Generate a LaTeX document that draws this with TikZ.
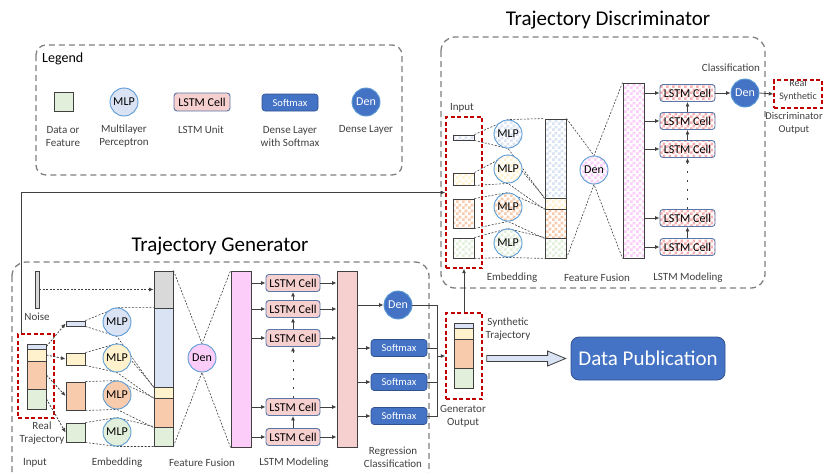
\documentclass[tikz,border=0pt]{standalone}
\usepackage{fontspec}
\setmainfont{Carlito}
\usetikzlibrary{arrows.meta,patterns,calc,fit}
\pgfdeclarelayer{bg}
\pgfsetlayers{bg,main}
\pgfdeclarepatternformonly{mychk}{\pgfqpoint{0pt}{0pt}}{\pgfqpoint{6pt}{6pt}}{\pgfqpoint{6pt}{6pt}}{%
  \pgfpathrectangle{\pgfqpoint{0pt}{0pt}}{\pgfqpoint{3pt}{3pt}}%
  \pgfpathrectangle{\pgfqpoint{3pt}{3pt}}{\pgfqpoint{3pt}{3pt}}%
  \pgfusepath{fill}}
\definecolor{cblue}{HTML}{DAE3F3}
\definecolor{cyel}{HTML}{FFF2CC}
\definecolor{corg}{HTML}{F8CBAD}
\definecolor{cgrn}{HTML}{E2EFDA}
\definecolor{cgry}{HTML}{D9D9D9}
\definecolor{cpink}{HTML}{F6CFCF}
\definecolor{cmag}{HTML}{FBCDF8}
\definecolor{cdark}{HTML}{4472C4}
\definecolor{cdarkb}{HTML}{2F528F}
\definecolor{cring}{HTML}{5B9BD5}
\definecolor{ccell}{HTML}{5A77A8}
\definecolor{cred}{HTML}{C00000}
\definecolor{cgbox}{HTML}{808080}
\definecolor{cline}{HTML}{404040}
\tikzset{
 seg/.style={draw=cline, line width=0.9pt, inner sep=0pt, fill=#1},
 dseg/.style={draw=cline, line width=0.9pt, inner sep=0pt, preaction={fill=white}, pattern=mychk, pattern color=#1},
 mlp/.style={circle, draw=cring, line width=0.9pt, fill=#1, minimum size=28pt, inner sep=0pt, font=\fontsize{12}{12}\selectfont},
 dmlp/.style={circle, draw=cring, line width=0.9pt, preaction={fill=white}, pattern=mychk, pattern color=#1, minimum size=28pt, inner sep=0pt, font=\fontsize{12}{12}\selectfont},
 lstm/.style={draw=ccell, line width=0.9pt, rounded corners=3pt, fill=cpink, minimum width=54pt, minimum height=17pt, inner sep=0pt, font=\fontsize{12}{12}\selectfont},
 dlstm/.style={draw=ccell, line width=0.9pt, rounded corners=3pt, preaction={fill=white}, pattern=mychk, pattern color=cpink!85!red, minimum width=55pt, minimum height=17pt, inner sep=0pt, font=\fontsize{12}{12}\selectfont},
 smx/.style={draw=cdarkb, line width=0.6pt, fill=cdark, rounded corners=3pt, minimum width=56pt, minimum height=17pt, inner sep=0pt, text=white, font=\fontsize{10.5}{10.5}\selectfont},
 den/.style={circle, draw=cring, line width=0.9pt, fill=cdark, minimum size=28pt, inner sep=0pt, text=white, font=\fontsize{12}{12}\selectfont},
 redbox/.style={draw=cred, line width=1.4pt, dash pattern=on 4pt off 2.5pt, inner sep=0pt},
 gbox/.style={draw=cgbox, line width=1.3pt, dash pattern=on 6pt off 4pt, rounded corners=14pt},
 arr/.style={draw=cline, line width=0.8pt, -{Latex[length=4.5pt,width=4pt]}},
 darr/.style={arr, dash pattern=on 2pt off 1.5pt},
 dl/.style={draw=cline, line width=0.6pt, dash pattern=on 2pt off 1.5pt},
 sl/.style={draw=cline, line width=0.8pt},
 lab/.style={font=\fontsize{11}{13}\selectfont, align=center, text=cline, inner sep=0pt},
 ttl/.style={font=\fontsize{21}{24}\selectfont, inner sep=0pt, text=black},
}
\begin{document}
\begin{tikzpicture}[x=1pt,y=-1pt]
\useasboundingbox (0,0) rectangle (824,472);

% ---------------- Legend ----------------
\draw[gbox, rounded corners=10pt] (36,45) rectangle (402,175);
\node[font=\fontsize{14}{14}\selectfont, anchor=west, inner sep=0pt] (legt) at (42,59) {Legend};
\node[seg=cgrn, fit={(54,92)(73,111)}] (lsq) {};
\node[mlp=cblue] (lmlp) at (124,102) {MLP};
\node[lstm, minimum width=56pt, minimum height=18pt] (lcl) at (202,102) {LSTM Cell};
\node[smx] (lsm) at (290,102.5) {Softmax};
\node[den] (lden) at (366,102) {Den};
\node[lab] (l1) at (63,136.5) {Data or\\Feature};
\node[lab] (l2) at (124,136.5) {Multilayer\\Perceptron};
\node[lab] (l3) at (201,130) {LSTM Unit};
\node[lab] (l4) at (290,136.5) {Dense Layer\\with Softmax};
\node[lab] (l5) at (366,130) {Dense Layer};

% ---------------- Generator ----------------
\node[ttl] (gtitle) at (220,246) {Trajectory Generator};
\draw[gbox] (12,262) rectangle (429,500);

\node[seg=cgry, fit={(35,271)(39,308)}] (noise) {};
\node[lab] (noisel) at (37,317) {Noise};

\node[seg=cblue, fit={(27,344)(46,349)}] (rt1) {};
\node[seg=cyel, fit={(27,349)(46,361)}] (rt2) {};
\node[seg=corg, fit={(27,361)(46,389)}] (rt3) {};
\node[seg=cgrn, fit={(27,389)(46,409)}] (rt4) {};
\node[redbox, fit={(18,334)(54,418)}] (rtbox) {};
\node[lab] (rtl) at (42,433.5) {Real\\Trajectory};

\node[seg=cblue, fit={(66,321)(85,326)}] (ge1) {};
\node[seg=cyel, fit={(66,353)(85,365)}] (ge2) {};
\node[seg=corg, fit={(66,382)(85,410)}] (ge3) {};
\node[seg=cgrn, fit={(66,423)(85,442)}] (ge4) {};

\node[mlp=cblue] (gm1) at (117,322) {MLP};
\node[mlp=cyel] (gm2) at (117,358) {MLP};
\node[mlp=corg] (gm3) at (117,395) {MLP};
\node[mlp=cgrn] (gm4) at (117,432) {MLP};

\node[seg=cgry, fit={(154,271)(173,308)}] (gfg) {};
\node[seg=cblue, fit={(154,308)(173,387)}] (gfb) {};
\node[seg=cyel, fit={(154,387)(173,398)}] (gfy) {};
\node[seg=corg, fit={(154,398)(173,427)}] (gfo) {};
\node[seg=cgrn, fit={(154,427)(173,446)}] (gfn) {};

\node[mlp=cmag] (gden) at (202,358) {Den};
\node[seg=cmag, fit={(231,271)(251,447)}] (gbar) {};

\node[lstm] (gc1) at (293,283) {LSTM Cell};
\node[lstm] (gc2) at (293,309) {LSTM Cell};
\node[lstm] (gc3) at (293,338) {LSTM Cell};
\node[lstm] (gc4) at (293,407) {LSTM Cell};
\node[lstm] (gc5) at (293,437) {LSTM Cell};

\node[seg=cpink, fit={(337,271)(357,447)}] (gout) {};
\node[den] (gden2) at (398,305) {Den};
\node[smx] (gs1) at (399,348) {Softmax};
\node[smx] (gs2) at (399,382) {Softmax};
\node[smx] (gs3) at (399,416) {Softmax};

\node[lab] (gl1) at (35,463) {Input};
\node[lab] (gl2) at (117,463) {Embedding};
\node[lab] (gl3) at (202,463) {Feature Fusion};
\node[lab] (gl4) at (294,463) {LSTM Modeling};
\node[lab] (gl5) at (393,457.5) {Regression\\Classification};

% generator output
\node[seg=cblue, fit={(454,323)(473,328)}] (go1) {};
\node[seg=cyel, fit={(454,328)(473,339)}] (go2) {};
\node[seg=corg, fit={(454,339)(473,368)}] (go3) {};
\node[seg=cgrn, fit={(454,368)(473,388)}] (go4) {};
\node[redbox, fit={(446,313)(482,399)}] (gobox) {};
\node[lab] (gol) at (463,416) {Generator\\Output};
\node[lab] (stl) at (508,329) {Synthetic\\Trajectory};

\node[draw=cdarkb, fill=cdark, rounded corners=8pt, minimum width=154pt, minimum height=43pt, text=white, font=\fontsize{21}{21}\selectfont, line width=0.8pt] (dp) at (648,358.5) {Data Publication};

% ---------------- Discriminator ----------------
\node[ttl] (dtitle) at (608,20) {Trajectory Discriminator};
\draw[gbox] (441,37) rectangle (765,288);

\node[dseg=cblue, fit={(453,135)(474,140)}] (di1) {};
\node[dseg=cyel, fit={(453,173)(474,185)}] (di2) {};
\node[dseg=corg, fit={(453,199)(474,228)}] (di3) {};
\node[dseg=cgrn, fit={(453,238)(474,258)}] (di4) {};
\node[redbox, fit={(446,117)(482,268)}] (dibox) {};
\node[lab] (dinl) at (462,108) {Input};

\node[dmlp=cblue] (dm1) at (508,134) {MLP};
\node[dmlp=cyel] (dm2) at (508,169) {MLP};
\node[dmlp=corg] (dm3) at (508,207) {MLP};
\node[dmlp=cgrn] (dm4) at (508,243) {MLP};

\node[dseg=cblue, fit={(545,119)(566,198)}] (dfb) {};
\node[dseg=cyel, fit={(545,198)(566,209)}] (dfy) {};
\node[dseg=corg, fit={(545,209)(566,238)}] (dfo) {};
\node[dseg=cgrn, fit={(545,238)(566,258)}] (dfn) {};

\node[dmlp=cmag] (dden) at (594,170) {Den};
\node[dseg=cmag, fit={(623,83)(644,258)}] (dbar) {};

\node[dlstm] (dc1) at (687.5,93) {LSTM Cell};
\node[dlstm] (dc2) at (687.5,121) {LSTM Cell};
\node[dlstm] (dc3) at (687.5,149) {LSTM Cell};
\node[dlstm] (dc4) at (687.5,218) {LSTM Cell};
\node[dlstm] (dc5) at (687.5,247) {LSTM Cell};

\node[den] (dden2) at (745,93) {Den};
\node[lab] (clsl) at (731,68) {Classification};
\node[redbox, fit={(774,80)(822,108)}, font=\fontsize{10}{12.5}\selectfont, align=center, text=cline] (rsbox) {Real\\Synthetic};
\node[lab, font=\fontsize{10.5}{13}\selectfont] (dol) at (794,123.5) {Discriminator\\Output};

\node[lab] (dl1) at (512,278) {Embedding};
\node[lab] (dl2) at (597,278) {Feature Fusion};
\node[lab] (dl3) at (688,278) {LSTM Modeling};

% ---------------- connectors (background) ----------------
\begin{pgfonlayer}{bg}
% generator embedding funnels
\draw[dl] (ge1.north east) -- (gm1.north) -- (gfb.north west);
\draw[dl] (ge1.south east) -- (gm1.south) -- (gfb.south west);
\draw[dl] (ge2.north east) -- (gm2.north) -- (gfy.north west);
\draw[dl] (ge2.south east) -- (gm2.south) -- (gfy.south west);
\draw[dl] (ge3.north east) -- (gm3.north) -- (gfo.north west);
\draw[dl] (ge3.south east) -- (gm3.south) -- (gfo.south west);
\draw[dl] (ge4.north east) -- (gm4.north) -- (gfn.north west);
\draw[dl] (ge4.south east) -- (gm4.south) -- (gfn.south west);
\draw[dl] (gfg.north east) -- (gden.north) -- (gbar.north west);
\draw[dl] (gfn.south east) -- (gden.south) -- (gbar.south west);
% discriminator funnels
\draw[dl] (di1.north east) -- (dm1.north) -- (dfb.north west);
\draw[dl] (di1.south east) -- (dm1.south) -- (dfb.south west);
\draw[dl] (di2.north east) -- (dm2.north) -- (dfy.north west);
\draw[dl] (di2.south east) -- (dm2.south) -- (dfy.south west);
\draw[dl] (di3.north east) -- (dm3.north) -- (dfo.north west);
\draw[dl] (di3.south east) -- (dm3.south) -- (dfo.south west);
\draw[dl] (di4.north east) -- (dm4.north) -- (dfn.north west);
\draw[dl] (di4.south east) -- (dm4.south) -- (dfn.south west);
\draw[dl] (dfb.north east) -- (dden.north) -- (dbar.north west);
\draw[dl] (dfn.south east) -- (dden.south) -- (dbar.south west);
\end{pgfonlayer}

% generator arrows
\draw[darr] (noise.east) -- (gfg.west);
\draw[darr] (rt1.east) -- (ge1.west);
\draw[darr] (rt2.east) -- (ge2.west);
\draw[darr] (rt3.east) -- (ge3.west);
\draw[darr] (rt4.east) -- (ge4.west);
\foreach \i in {1,...,5} {
  \draw[arr] (gbar.east |- gc\i.west) -- (gc\i.west);
  \draw[arr] (gc\i.east) -- (gout.west |- gc\i.east);
}
\draw[arr] (gc2.north) -- (gc1.south);
\draw[arr] (gc3.north) -- (gc2.south);
\draw[arr] (gc5.north) -- (gc4.south);
\draw[arr, dash pattern=on 1.6pt off 7.5pt] (gc4.north) -- (gc3.south);
\draw[arr] (gout.east |- gden2.west) -- (gden2.west);
\draw[arr] (gout.east |- gs1.west) -- (gs1.west);
\draw[arr] (gout.east |- gs2.west) -- (gs2.west);
\draw[arr] (gout.east |- gs3.west) -- (gs3.west);
\draw[sl] (gden2.east) -| ($(gs3.east)+(10,0)$) -- (gs3.east);
\draw[sl] (gs1.east) -- ++(10,0);
\draw[sl] (gs2.east) -- ++(10,0);
\draw[arr] ($(gobox.west -| gs1.east)+(10,0)$) -- (gobox.west);
\draw[arr] (gobox.north) -- (dibox.south);
\draw[arr] ($(rtbox.north west)+(4,0)$) |- (dibox.west);

% block arrow to data publication
\coordinate (ba0) at ($(gobox.east |- dp.west)+(4,0)$);
\coordinate (ba1) at ($(dp.west)+(-5,0)$);
\draw[draw=cline, fill=cblue, line width=0.8pt] ($(ba0)+(0,-3)$) -- ($(ba1)+(-18,-3)$) -- ($(ba1)+(-18,-7.5)$) -- (ba1) -- ($(ba1)+(-18,7.5)$) -- ($(ba1)+(-18,3)$) -- ($(ba0)+(0,3)$) -- cycle;

% discriminator arrows
\foreach \i in {1,...,5} {
  \draw[arr] (dbar.east |- dc\i.west) -- (dc\i.west);
}
\draw[arr] (dc2.north) -- (dc1.south);
\draw[arr] (dc3.north) -- (dc2.south);
\draw[arr] (dc5.north) -- (dc4.south);
\draw[arr, dash pattern=on 1.6pt off 7.5pt] (dc4.north) -- (dc3.south);
\draw[arr] (dc1.east) -- (dden2.west);
\draw[arr] (dden2.east) -- (rsbox.west);
\end{tikzpicture}
\end{document}
